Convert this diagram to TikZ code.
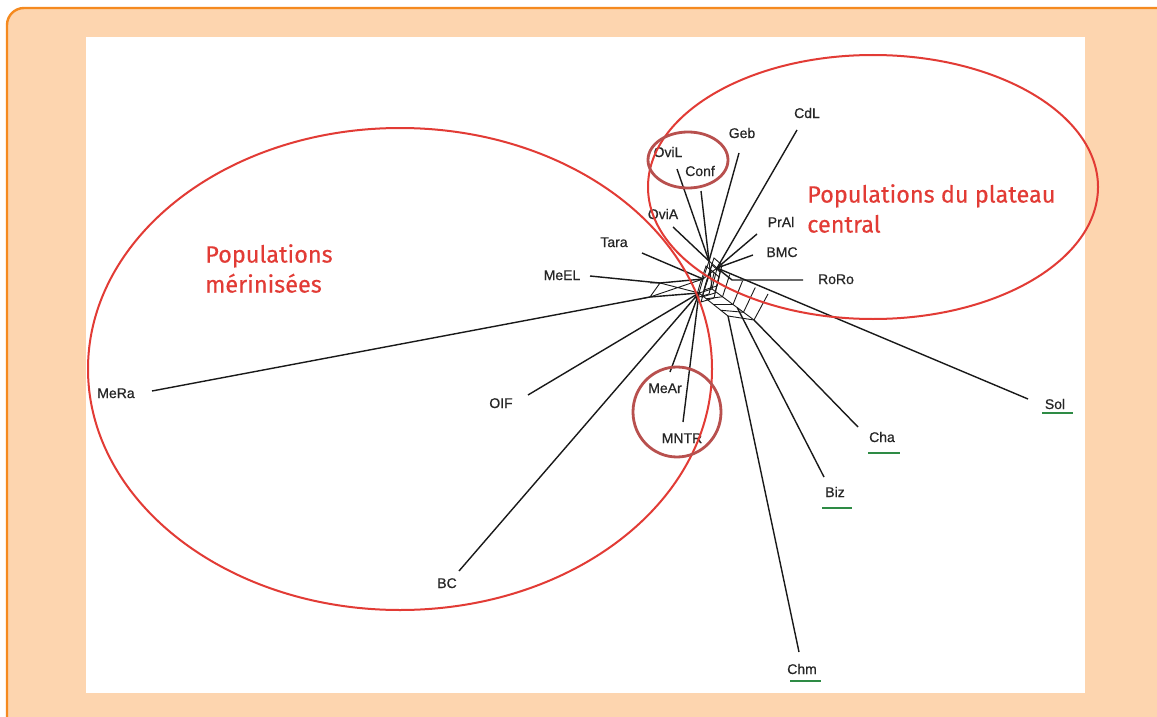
\documentclass[tikz,border=0pt]{standalone}
\usepackage{fontspec}
\setmainfont{Liberation Sans}
\newfontfamily\lblfont[FakeBold=0.6]{Liberation Sans}
\newfontfamily\titlefont[FakeBold=0.3]{Fira Sans}
\usetikzlibrary{calc}
\definecolor{peach}{HTML}{FDD5AF}
\definecolor{frame}{HTML}{F58A1F}
\definecolor{grpred}{HTML}{E23B35}
\definecolor{subred}{HTML}{B8504E}
\definecolor{ulgreen}{HTML}{2E8B45}

\begin{document}
\begin{tikzpicture}[x=1pt,y=-1pt,
  lbl/.style={inner sep=0pt,text height=10pt,text depth=0pt,font=\lblfont\fontsize{14}{16}\selectfont,text=black!85},
  grptitle/.style={inner sep=0pt,anchor=north west,align=left,text=grpred,font=\titlefont\fontsize{23.5}{30}\selectfont},
  branch/.style={line width=1.4pt,black!90},
  web/.style={line width=0.9pt,black!90},
  uline/.style={line width=1.8pt,ulgreen},
  grp/.style={line width=2pt,grpred},
  subgrp/.style={line width=2.8pt,subred}]
\useasboundingbox (0,0) rectangle (1157,717);
\fill[peach,draw=frame,line width=2.4pt,rounded corners=17pt] (7,8) rectangle (1180,740);
\fill[white] (86,37) rectangle (1085,693);

\draw (807,113) node[lbl](CdL){CdL};
\draw (742,133) node[lbl](Geb){Geb};
\draw (668,152) node[lbl](OviL){OviL};
\draw (700,171) node[lbl](Conf){Conf};
\draw (663,214) node[lbl](OviA){OviA};
\draw (781,222) node[lbl](PrAl){PrAl};
\draw (782,252) node[lbl](BMC){BMC};
\draw (836,279) node[lbl](RoRo){RoRo};
\draw (614,242) node[lbl](Tara){Tara};
\draw (562,275) node[lbl](MeEL){MeEL};
\draw (116,393) node[lbl](MeRa){MeRa};
\draw (501,403) node[lbl](OIF){OIF};
\draw (447,583) node[lbl](BC){BC};
\draw (665,388) node[lbl](MeAr){MeAr};
\draw (682,438) node[lbl](MNTR){MNTR};
\draw (802,669) node[lbl](Chm){Chm};
\draw (835,492) node[lbl](Biz){Biz};
\draw (882,437) node[lbl](Cha){Cha};
\draw (1055,404) node[lbl](Sol){Sol};

\draw[uline] (1042,413) -- (1073,413);
\draw[uline] (868,453) -- (900,453);
\draw[uline] (822,508) -- (852,508);
\draw[uline] (790,681) -- (821,681);

\coordinate (tCdL) at (797,130);
\coordinate (tGeb) at (739,153);
\coordinate (tOviL) at (677,169);
\coordinate (tConf) at (701,191);
\coordinate (tOviA) at (673,227);
\coordinate (tPrAl) at (757,234);
\coordinate (tBMC) at (753,255);
\coordinate (tRoRo) at (803,280);
\coordinate (tTara) at (642,253);
\coordinate (tMeEL) at (590,276);
\coordinate (tMeRa) at (152,391);
\coordinate (tOIF) at (528,395);
\coordinate (tBC) at (459,571);
\coordinate (tMeAr) at (670,372);
\coordinate (tMNTR) at (683,422);
\coordinate (tChm) at (799,652);
\coordinate (tBiz) at (824,477);
\coordinate (tCha) at (858,427);
\coordinate (tSol) at (1028,399);

\coordinate (hA) at (709,261);
\coordinate (hB) at (717,268);
\coordinate (hC) at (703,279);
\coordinate (hD) at (699,293);
\coordinate (hE) at (712,289);
\coordinate (kRoRo) at (732,280);
\coordinate (kMeEL) at (660,283);
\coordinate (kMeRa) at (650,297);
\coordinate (r1) at (768,294);
\coordinate (r2) at (754,320);
\coordinate (r3) at (728,316);

\draw[branch] (tCdL) -- (hB);
\draw[branch] (tGeb) -- (hA);
\draw[branch] (tConf) -- (hA);
\draw[branch] (tOviL) -- (hA);
\draw[branch] (tOviA) -- (hA);
\draw[branch] (tPrAl) -- (hB);
\draw[branch] (tBMC) -- (hB);
\draw[branch] (tRoRo) -- (kRoRo) -- (hB);
\draw[branch] (tTara) -- (hC);
\draw[branch] (tMeEL) -- (kMeEL) -- (hC);
\draw[branch] (tMeRa) -- (kMeRa) -- (hD);
\draw[branch] (tOIF) -- (hD);
\draw[branch] (tBC) -- (hD);
\draw[branch] (tMeAr) -- (hD);
\draw[branch] (tMNTR) -- (hD);
\draw[branch] (tSol) -- (hB);
\draw[branch] (tChm) -- (r3);
\draw[branch] (tBiz) -- ($(hE)!0.6!(r2)$);
\draw[branch] (tCha) -- (r2);

\draw[web] (hA) -- (hB) -- (hE) -- (hD) -- (hC) -- (hA);
\draw[web] (hA) -- (hE) (hC) -- (hB);
\foreach \dx/\dy in {3/4,-3/5,5/-3,2/9}
  \draw[web] ($(hA)+(\dx,\dy)$) -- ($(hB)+(\dx,\dy)$) -- ($(hE)+(\dx,\dy)$)
    -- ($(hD)+(\dx,\dy)$) -- ($(hC)+(\dx,\dy)$) -- cycle;
\draw[web] (kMeEL) -- (kMeRa) (kMeEL) -- (650,283) (kMeRa) -- (640,299)
  (hC) -- (kMeRa) (kMeEL) -- (hD);
\draw[web] (hE) -- (r2) (hD) -- (r3);
\foreach \t in {0.25,0.5,0.75,1}
  \draw[web] ($(hB)!\t!(r1)$) -- ($(hE)!\t!(r2)$) -- ($(hD)!\t!(r3)$);

\draw[grp] (400,369) ellipse [x radius=312, y radius=241];
\draw[grp] (873,187) ellipse [x radius=225, y radius=132];
\draw[subgrp] (688,160) ellipse [x radius=40, y radius=28];
\draw[subgrp] (677,412) ellipse [x radius=44, y radius=45];

\draw (205,244) node[grptitle](merin){Populations\\m\'erinis\'ees};
\draw (807,184) node[grptitle](plateau){Populations du plateau\\central};
\end{tikzpicture}
\end{document}
